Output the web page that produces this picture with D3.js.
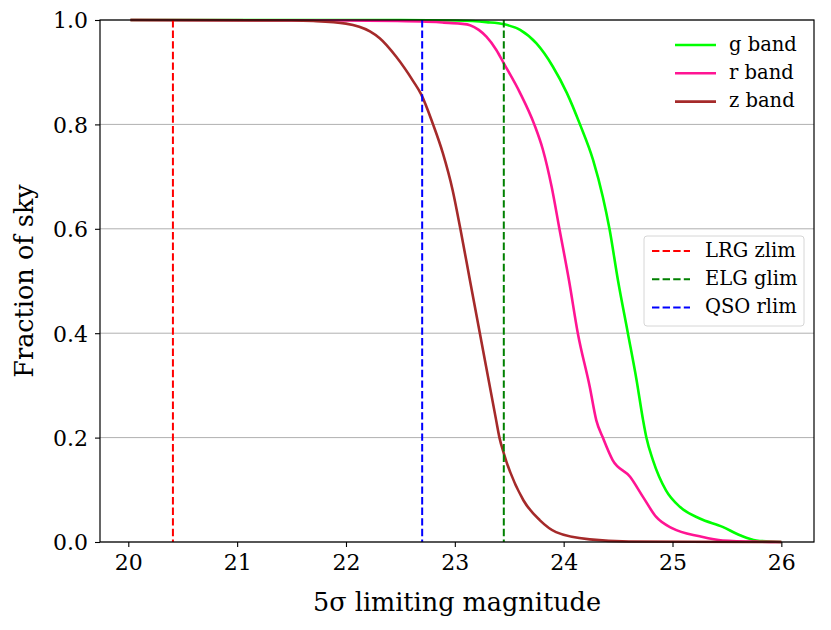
<!DOCTYPE html>
<html>
<head>
<meta charset="utf-8">
<script src="https://cdn.jsdelivr.net/npm/d3@7"></script>
<style>
  body { margin: 0; background: white; }
  text { font-family: "DejaVu Serif", serif; fill: black; }
</style>
</head>
<body>
<svg id="chart" width="831" height="630"></svg>
<script>
// fraction of sky deeper than a given 5 sigma depth
const gBand = [[20.02,1.0],[22.5,1.0],[23.0,0.999],[23.29,0.996],[23.45,0.992],[23.60,0.981],[23.75,0.955],
  [23.90,0.911],[24.03,0.86],[24.15,0.80],[24.27,0.732],[24.36,0.661],[24.42,0.601],[24.50,0.50],[24.59,0.40],
  [24.67,0.31],[24.73,0.233],[24.76,0.20],[24.82,0.157],[24.94,0.099],[25.07,0.067],[25.25,0.045],[25.46,0.029],
  [25.62,0.013],[25.77,0.003],[26.0,0.0]]
const rBand = [[20.02,1.0],[22.0,0.999],[22.7,0.997],[22.9,0.995],[23.05,0.993],[23.14,0.990],[23.22,0.981],
  [23.29,0.968],[23.38,0.943],[23.45,0.917],[23.60,0.86],[23.73,0.80],[23.81,0.751],[23.89,0.68],[23.96,0.601],
  [24.05,0.50],[24.13,0.40],[24.24,0.297],[24.30,0.233],[24.36,0.20],[24.45,0.157],[24.61,0.125],[24.73,0.086],
  [24.85,0.048],[25.0,0.026],[25.25,0.011],[25.46,0.003],[25.8,0.0005],[26.0,0.0]]
const zBand = [[20.02,1.0],[21.5,0.999],[21.7,0.998],[22.0,0.993],[22.22,0.978],[22.31,0.965],[22.46,0.930],
  [22.62,0.882],[22.69,0.858],[22.80,0.80],[22.89,0.745],[22.98,0.674],[23.05,0.601],[23.14,0.50],[23.23,0.40],
  [23.38,0.233],[23.41,0.20],[23.45,0.170],[23.63,0.080],[23.78,0.042],[23.93,0.019],[24.24,0.005],[24.6,0.001],
  [26.0,0.0]]

const bandNames = ['g band', 'r band', 'z band']
const bandColors = ['#00ff00', '#ff1493', '#a52a2a']

const limitNames = ['LRG zlim', 'ELG glim', 'QSO rlim']
const limitValues = [20.41, 23.45, 22.70]
const limitColors = ['#ff0000', '#008000', '#0000ff']

const xTicks = [20, 21, 22, 23, 24, 25, 26]
const yTicks = [0.0, 0.2, 0.4, 0.6, 0.8, 1.0]

const svg = d3.select('#chart')
const margin = { top: 20, bottom: 88, right: 17, left: 100 }
const innerWidth = 831 - margin.left - margin.right
const innerHeight = 630 - margin.top - margin.bottom

const xScale = d3.scaleLinear().domain([19.74, 26.30]).range([0, innerWidth])
const yScale = d3.scaleLinear().domain([0, 1]).range([innerHeight, 0])

const g = svg.append('g').attr('transform', `translate(${margin.left},${margin.top})`)

// horizontal grid only
g.append('g')
  .selectAll('line')
  .data(yTicks)
  .join('line')
  .attr('x1', 0).attr('x2', innerWidth)
  .attr('y1', d => yScale(d)).attr('y2', d => yScale(d))
  .style('stroke', '#b0b0b0')
  .style('stroke-width', 1)

const line = d3.line()
  .x(d => xScale(d[0]))
  .y(d => yScale(d[1]))
  .curve(d3.curveMonotoneX)

const bands = [gBand, rBand, zBand]
g.append('g')
  .selectAll('path')
  .data(bands)
  .join('path')
  .attr('d', line)
  .style('fill', 'none')
  .style('stroke', (d, i) => bandColors[i])
  .style('stroke-width', 2.6)

g.append('g')
  .selectAll('line')
  .data(limitValues)
  .join('line')
  .attr('x1', d => xScale(d)).attr('x2', d => xScale(d))
  .attr('y1', 0).attr('y2', innerHeight)
  .style('stroke', (d, i) => limitColors[i])
  .style('stroke-width', 2)
  .style('stroke-dasharray', '7.4,3.2')

// axes
const xAxis = d3.axisBottom(xScale).tickValues(xTicks).tickFormat(d3.format('d')).tickSize(5).tickSizeOuter(0)
const yAxis = d3.axisLeft(yScale).tickValues(yTicks).tickFormat(d3.format('.1f')).tickSize(5).tickSizeOuter(0)

const gx = g.append('g').attr('transform', `translate(0,${innerHeight})`).call(xAxis)
const gy = g.append('g').call(yAxis)
for (const ax of [gx, gy]) {
  ax.select('.domain').remove()
  ax.selectAll('.tick line').style('stroke', 'black').style('stroke-width', 1.1)
  ax.selectAll('.tick text').style('font-family', '"DejaVu Serif", serif').style('font-size', '22px').style('fill', 'black')
}
gx.selectAll('.tick text').attr('dy', null).attr('y', 28.3)
gy.selectAll('.tick text').attr('x', -12).attr('dy', '0.36em')

// frame
g.append('rect')
  .attr('width', innerWidth).attr('height', innerHeight)
  .style('fill', 'none').style('stroke', 'black').style('stroke-width', 1.2)

g.append('text')
  .attr('x', innerWidth / 2)
  .attr('y', innerHeight + 69.3)
  .style('text-anchor', 'middle')
  .style('font-size', '25.5px')
  .text('5σ limiting magnitude')

g.append('text')
  .attr('transform', 'rotate(-90)')
  .attr('x', -innerHeight / 2)
  .attr('y', -66.7)
  .style('text-anchor', 'middle')
  .style('font-size', '25.5px')
  .text('Fraction of sky')

// legend for the bands, no frame
const leg1 = g.append('g').attr('transform', `translate(${675 - margin.left},${45 - margin.top})`)
bandNames.forEach((name, i) => {
  const row = leg1.append('g').attr('transform', `translate(0,${i * 28.3})`)
  row.append('line').attr('x1', 0).attr('x2', 41)
    .style('stroke', bandColors[i]).style('stroke-width', 2.6)
  row.append('text').attr('x', 54).attr('dy', '0.3em')
    .style('font-size', '19.5px').text(name)
})

// legend for the target limits
const leg2 = g.append('g').attr('transform', `translate(${644 - margin.left},${236 - margin.top})`)
leg2.append('rect')
  .attr('width', 160).attr('height', 90)
  .attr('rx', 3).attr('ry', 3)
  .style('fill', 'white').style('fill-opacity', 0.8)
  .style('stroke', '#d6d6d6').style('stroke-width', 1)
limitNames.forEach((name, i) => {
  const row = leg2.append('g').attr('transform', `translate(0,${15 + i * 28.3})`)
  row.append('line').attr('x1', 8).attr('x2', 46)
    .style('stroke', limitColors[i]).style('stroke-width', 2)
    .style('stroke-dasharray', '7.4,3.2')
  row.append('text').attr('x', 61).attr('dy', '0.3em')
    .style('font-size', '19.5px').text(name)
})
</script>
</body>
</html>
